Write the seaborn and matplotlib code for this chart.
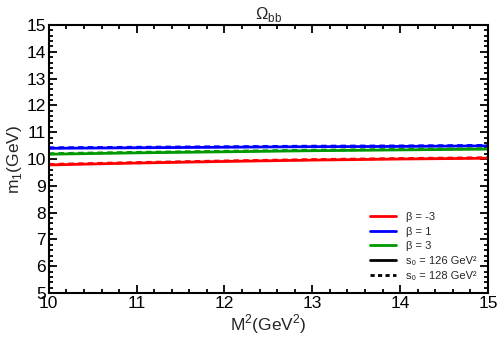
import matplotlib
matplotlib.use("Agg")
import matplotlib.pyplot as plt
import numpy as np
import pandas as pd
import seaborn as sns
from matplotlib.lines import Line2D
from matplotlib.ticker import MultipleLocator

# Borel parameter M^2 (GeV^2)
msq = [10, 11, 12, 13, 14, 15]

# m1 (GeV) for s0 = 126 GeV^2
m_beta_m3_126 = [9.78, 9.85, 9.91, 9.96, 10.00, 10.03]
m_beta_1_126 = [10.40, 10.42, 10.44, 10.46, 10.47, 10.49]
m_beta_3_126 = [10.18, 10.23, 10.27, 10.31, 10.34, 10.37]

# m1 (GeV) for s0 = 128 GeV^2
m_beta_m3_128 = [9.80, 9.87, 9.93, 9.98, 10.02, 10.05]
m_beta_1_128 = [10.42, 10.44, 10.46, 10.48, 10.49, 10.51]
m_beta_3_128 = [10.20, 10.25, 10.29, 10.33, 10.36, 10.39]

labels = ["β = -3", "β = 1", "β = 3"]
colors = ["#ff0000", "#0000ff", "#009900"]

rows = []
for lab, v126, v128 in zip(labels,
                           [m_beta_m3_126, m_beta_1_126, m_beta_3_126],
                           [m_beta_m3_128, m_beta_1_128, m_beta_3_128]):
    for x, a, b in zip(msq, v126, v128):
        rows.append({"M2": x, "m1": a, "beta": lab, "s0": "126"})
        rows.append({"M2": x, "m1": b, "beta": lab, "s0": "128"})
df = pd.DataFrame(rows)

sns.set_style("ticks")
plt.rcParams["font.family"] = ["Liberation Sans", "DejaVu Sans"]
plt.rcParams["mathtext.fontset"] = "custom"
plt.rcParams["mathtext.rm"] = "Liberation Sans"

fig = plt.figure(figsize=(4.98, 3.42), dpi=100)
ax = fig.add_axes([0.098, 0.143, 0.882, 0.784])

sns.lineplot(data=df, x="M2", y="m1", hue="beta", style="s0",
             palette=dict(zip(labels, colors)),
             dashes={"126": "", "128": (2, 1.5)},
             linewidth=2.0, legend=False, ax=ax)

ax.set_xlim(10, 15)
ax.set_ylim(5, 15)
ax.xaxis.set_major_locator(MultipleLocator(1))
ax.xaxis.set_minor_locator(MultipleLocator(0.2))
ax.yaxis.set_major_locator(MultipleLocator(1))
ax.yaxis.set_minor_locator(MultipleLocator(0.2))
ax.tick_params(which="both", direction="in", top=True, right=True,
               width=1.3, labelsize=12.5, colors="black", pad=2)
ax.tick_params(which="major", length=6)
ax.tick_params(which="minor", length=3)
for s in ax.spines.values():
    s.set_linewidth(1.5)
    s.set_color("black")

ax.set_xlabel(r"M$^2$(GeV$^2$)", fontsize=12.5, labelpad=1)
ax.set_ylabel(r"m$_1$(GeV)", fontsize=12.5, labelpad=2)
ax.set_title(r"$\Omega_{\rm bb}$", fontsize=12, pad=4)

handles = [Line2D([], [], color=c, lw=2) for c in colors]
handles += [Line2D([], [], color="black", lw=2),
            Line2D([], [], color="black", lw=2, ls=(0, (1.5, 1.2)))]
leg_labels = labels + ["s₀ = 126 GeV²", "s₀ = 128 GeV²"]
ax.legend(handles, leg_labels, loc="lower right", frameon=False,
          fontsize=8, handlelength=2.4, handletextpad=0.9,
          labelspacing=0.42, borderaxespad=0.0,
          bbox_to_anchor=(0.985, 0.03))

fig.savefig("out.png", dpi=100)
